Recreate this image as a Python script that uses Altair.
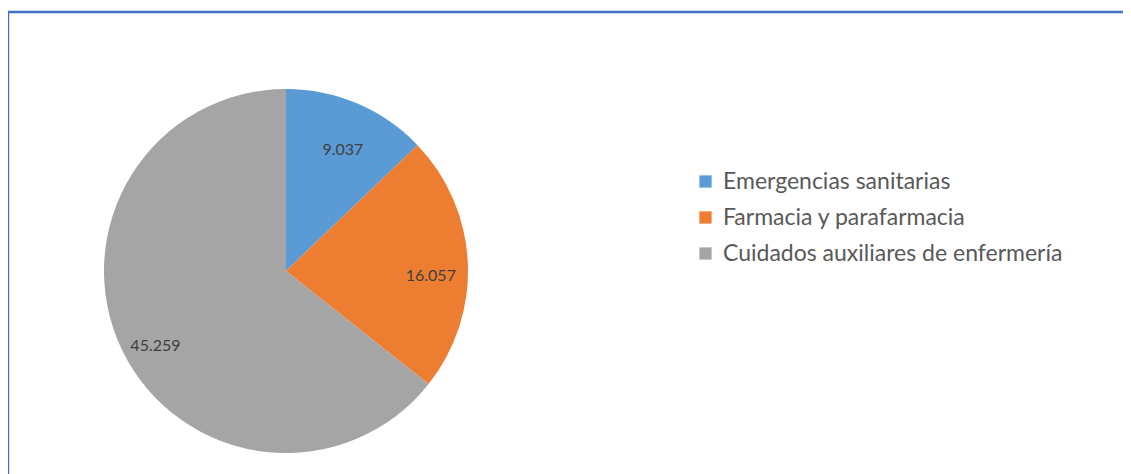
import altair as alt
import pandas as pd

categories = ["Emergencias sanitarias", "Farmacia y parafarmacia", "Cuidados auxiliares de enfermería"]
values = [9.037, 16.057, 45.259]
labels = ["9.037", "16.057", "45.259"]
colors = ["#5B9BD5", "#ED7D31", "#A5A5A5"]

df = pd.DataFrame({
    "categoria": categories,
    "valor": values,
    "etiqueta": labels,
    "orden": list(range(len(categories))),
})

CX, CY = 278, 263

base = alt.Chart(df).encode(
    theta=alt.Theta("valor:Q", stack=True),
    order=alt.Order("orden:Q", sort="ascending"),
)

pie = base.mark_arc(radius=182, stroke=None).encode(
    x=alt.value(CX),
    y=alt.value(CY),
    color=alt.Color(
        "categoria:N",
        scale=alt.Scale(domain=categories, range=colors),
        sort=categories,
        legend=alt.Legend(
            title=None,
            orient="none",
            legendX=686,
            legendY=162,
            labelFont="Lato",
            labelFontSize=23,
            labelColor="#595959",
            labelLimit=500,
            symbolType="square",
            symbolSize=150,
            symbolStrokeWidth=0,
            rowPadding=12,
            labelOffset=6,
        ),
    ),
)

text = base.mark_text(radius=145, dy=12, font="Lato", fontSize=16, color="#404040").encode(
    x=alt.value(CX),
    y=alt.value(CY),
    text="etiqueta:N",
)

frame_df = pd.DataFrame({"k": [0]})
top_line = alt.Chart(frame_df).mark_rule(color="#4472C4", strokeWidth=2.5).encode(
    x=alt.value(-1), x2=alt.value(1125), y=alt.value(4)
)
left_line = alt.Chart(frame_df).mark_rule(color="#4472C4", strokeWidth=2.5).encode(
    x=alt.value(0), y=alt.value(3), y2=alt.value(470)
)

chart = alt.layer(top_line, left_line, pie, text).properties(
    width=1115,
    height=466,
    autosize=alt.AutoSizeParams(type="none"),
    padding=0,
).configure_view(stroke=None)

chart.save("out.html", embed_options={"renderer": "svg", "actions": False})
